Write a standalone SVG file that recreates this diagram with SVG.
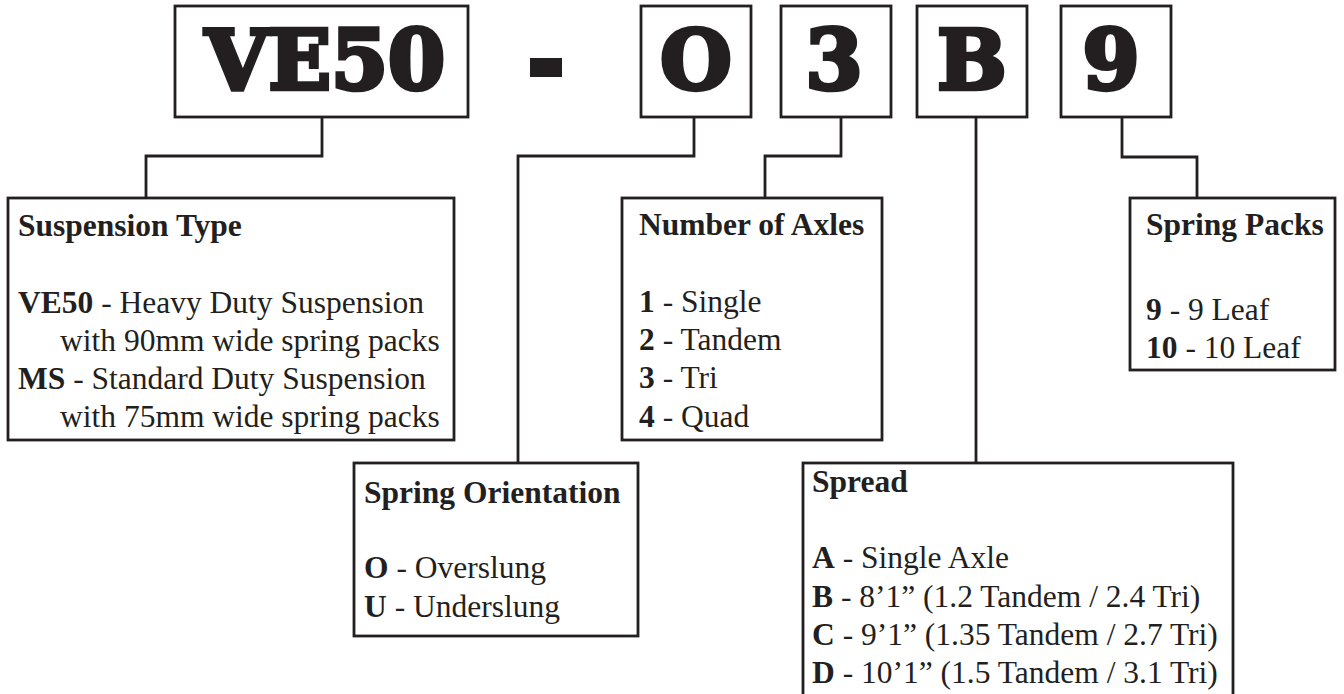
<svg xmlns="http://www.w3.org/2000/svg" width="1344" height="694" viewBox="0 0 1344 694">
<style>
.box{fill:#fff;stroke:#231f20;stroke-width:2.8}
.wire{fill:none;stroke:#231f20;stroke-width:2.8}
.big{font-family:"DejaVu Serif",serif;font-weight:bold;font-size:82px;fill:#231f20;stroke:#231f20;stroke-width:4.5;text-anchor:middle}
.t{font-family:"Liberation Serif","Times New Roman",serif;font-size:31.5px;fill:#231f20}
.b{font-weight:bold}
</style>
<rect width="1344" height="694" fill="#fff"/>
<g id="connectors">
<polyline class="wire" points="322,117 322,156 146,156 146,198"/>
<polyline class="wire" points="694,117 694,156 518,156 518,463"/>
<polyline class="wire" points="841,117 841,156 765,156 765,198"/>
<polyline class="wire" points="976,117 976,463"/>
<polyline class="wire" points="1122,117 1122,157 1197,157 1197,198"/>
</g>
<g id="code-ve50"><rect class="box" x="175" y="6" width="293" height="111"/><text class="big" x="325" y="89">VE50</text></g>
<g id="code-dash"><rect x="530" y="58" width="32" height="19" fill="#231f20"/></g>
<g id="code-o"><rect class="box" x="641" y="6" width="110" height="111"/><text class="big" x="696" y="89">O</text></g>
<g id="code-3"><rect class="box" x="781" y="6" width="110" height="111"/><text class="big" x="834" y="89">3</text></g>
<g id="code-b"><rect class="box" x="917" y="6" width="110" height="111"/><text class="big" x="972" y="89">B</text></g>
<g id="code-9"><rect class="box" x="1061" y="6" width="110" height="111"/><text class="big" x="1111" y="89">9</text></g>
<g id="suspension-type">
<rect class="box" x="8" y="198" width="446" height="242"/>
<text class="t b" x="18" y="236">Suspension Type</text>
<text class="t" x="18" y="313"><tspan class="b">VE50</tspan> - Heavy Duty Suspension</text>
<text class="t" x="60" y="351">with 90mm wide spring packs</text>
<text class="t" x="18" y="389"><tspan class="b">MS</tspan> - Standard Duty Suspension</text>
<text class="t" x="60" y="427">with 75mm wide spring packs</text>
</g>
<g id="spring-orientation">
<rect class="box" x="354" y="463" width="284" height="173"/>
<text class="t b" x="364" y="503">Spring Orientation</text>
<text class="t" x="364" y="578"><tspan class="b">O</tspan> - Overslung</text>
<text class="t" x="364" y="617"><tspan class="b">U</tspan> - Underslung</text>
</g>
<g id="number-of-axles">
<rect class="box" x="622" y="198" width="260" height="242"/>
<text class="t b" x="639" y="235">Number of Axles</text>
<text class="t" x="639" y="312"><tspan class="b">1</tspan> - Single</text>
<text class="t" x="639" y="350"><tspan class="b">2</tspan> - Tandem</text>
<text class="t" x="639" y="388"><tspan class="b">3</tspan> - Tri</text>
<text class="t" x="639" y="427"><tspan class="b">4</tspan> - Quad</text>
</g>
<g id="spread">
<rect class="box" x="803" y="463" width="430" height="234"/>
<text class="t b" x="812" y="492">Spread</text>
<text class="t" x="812" y="568"><tspan class="b">A</tspan> - Single Axle</text>
<text class="t" x="812" y="607"><tspan class="b">B</tspan> - 8’1” (1.2 Tandem / 2.4 Tri)</text>
<text class="t" x="812" y="645"><tspan class="b">C</tspan> - 9’1” (1.35 Tandem / 2.7 Tri)</text>
<text class="t" x="812" y="683"><tspan class="b">D</tspan> - 10’1” (1.5 Tandem / 3.1 Tri)</text>
</g>
<g id="spring-packs">
<rect class="box" x="1130" y="198" width="205" height="172"/>
<text class="t b" x="1146" y="235">Spring Packs</text>
<text class="t" x="1146" y="320"><tspan class="b">9</tspan> - 9 Leaf</text>
<text class="t" x="1146" y="358"><tspan class="b">10</tspan> - 10 Leaf</text>
</g>
</svg>
